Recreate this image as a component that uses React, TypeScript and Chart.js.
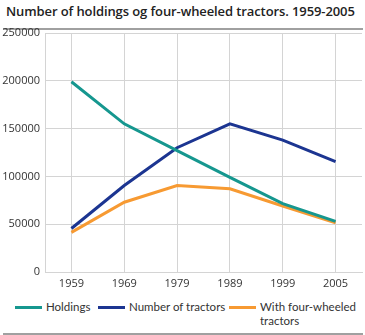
import React, { useEffect, useRef } from "react";
import { Chart, registerables } from "chart.js";

Chart.register(...registerables);

const years = ["1959", "1969", "1979", "1989", "1999", "2005"];
const holdings = [199000, 155000, 127000, 99000, 71500, 53000];
const tractors = [45500, 90500, 130000, 155000, 138000, 115500];
const fourWheeled = [41500, 73000, 90500, 87000, 69000, 51500];

const title = "Number of holdings og four-wheeled tractors. 1959-2005";
const seriesNames = ["Holdings", "Number of tractors", "With four-wheeled tractors"];
const colors = ["#16978f", "#1c3591", "#f79a32"];

const FONT = "'Open Sans', 'DejaVu Sans', sans-serif";
const LEGEND_FONT = "Lato, 'Open Sans', sans-serif";

export default function App() {
  const ref = useRef<HTMLCanvasElement | null>(null);
  useEffect(() => {
    if (!ref.current) return;
    const chart = new Chart(ref.current, {
      type: "line",
      data: {
        labels: years,
        datasets: [holdings, tractors, fourWheeled].map((d, i) => ({
          label: seriesNames[i],
          data: d,
          borderColor: colors[i],
          backgroundColor: colors[i],
          borderWidth: 3,
          pointRadius: 0,
          tension: 0,
          fill: false,
        })),
      },
      options: {
        animation: false,
        responsive: false,
        maintainAspectRatio: false,
        layout: { padding: { left: 0, right: 3, top: 33, bottom: 0 } },
        plugins: { legend: { display: false }, title: { display: false }, tooltip: { enabled: false } },
        scales: {
          x: {
            offset: true,
            grid: { offset: false, color: "#d4d4d4", drawTicks: false },
            border: { color: "#d4d4d4" },
            ticks: { color: "#333", font: { family: FONT, size: 11 }, padding: 5 },
            afterFit: (s: any) => { s.height = 28; },
          },
          y: {
            min: 0,
            max: 250000,
            grid: { color: "#d4d4d4", drawTicks: false },
            border: { color: "#d4d4d4" },
            ticks: {
              stepSize: 50000,
              color: "#333",
              font: { family: FONT, size: 11 },
              padding: 5,
              callback: (v: any) => String(v),
            },
            afterFit: (s: any) => { s.width = 45; },
          },
        },
      },
    });
    return () => chart.destroy();
  }, []);

  const legendItem = (i: number, left: number, width: number, content: React.ReactNode) => (
    <div key={i} style={{ position: "absolute", left, top: 300, width, display: "flex", alignItems: "flex-start" }}>
      <div style={{ width: 27, height: 3, background: colors[i], marginTop: 6, marginRight: 4, flex: "none" }} />
      <div style={{ fontSize: 11.5, lineHeight: "14px", color: "#333", whiteSpace: "nowrap", fontFamily: LEGEND_FONT }}>{content}</div>
    </div>
  );

  return (
    <div style={{ position: "absolute", left: 0, top: 0, width: 365, height: 335, background: "#fff", fontFamily: FONT }}>
      <div style={{ position: "absolute", left: 6, top: 2, fontSize: 13, fontWeight: 600, color: "#222", whiteSpace: "nowrap", letterSpacing: -0.1 }}>
        {title}
      </div>
      <div style={{ position: "absolute", left: 3, top: 28, width: 360, height: 2, background: "#a0a0a0" }} />
      <canvas ref={ref} width={365} height={300} style={{ position: "absolute", left: 0, top: 0, width: 365, height: 300 }} />
      {legendItem(0, 15, 82, seriesNames[0])}
      {legendItem(1, 98, 130, seriesNames[1])}
      {legendItem(2, 229, 134, <>With four-wheeled<br />tractors</>)}
      <div style={{ position: "absolute", left: 3, top: 333, width: 360, height: 2, background: "#a0a0a0" }} />
    </div>
  );
}
